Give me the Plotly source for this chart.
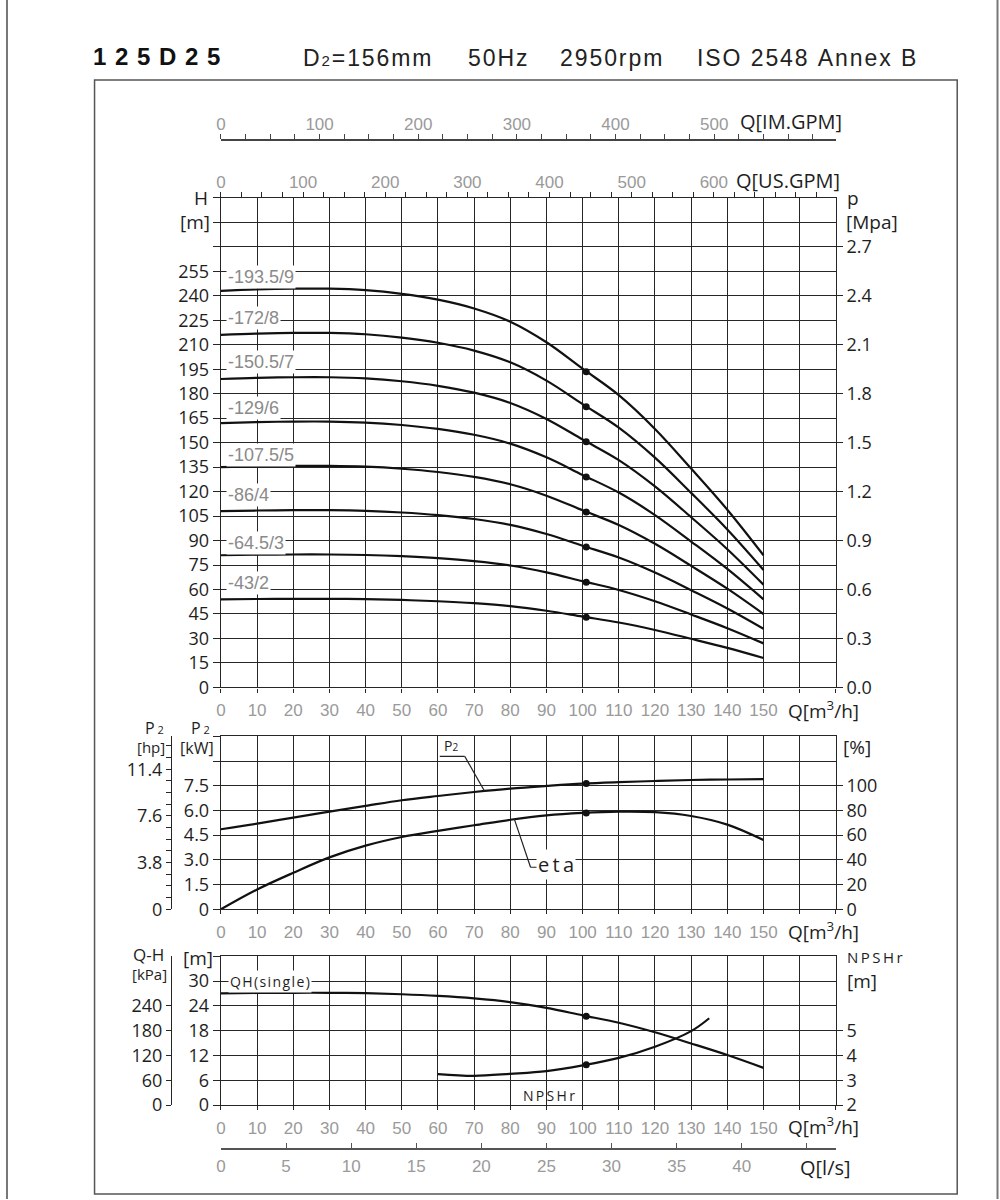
import plotly.graph_objects as go

# ---------------- data ----------------
Q = [0, 10, 20, 30, 40, 50, 60, 70, 80, 90, 100, 110, 120, 130, 140, 150]
H1 = [27.0, 27.1, 27.15, 27.15, 27.05, 26.8, 26.4, 25.8, 24.9, 23.5, 21.7, 19.9, 17.6, 14.9, 12.1, 9.0]
H2 = [54.0, 54.2, 54.3, 54.3, 54.1, 53.6, 52.8, 51.6, 49.8, 47.0, 43.4, 39.8, 35.2, 29.8, 24.2, 18.0]
H3 = [81.0, 81.3, 81.45, 81.45, 81.15, 80.4, 79.2, 77.4, 74.7, 70.5, 65.1, 59.7, 52.8, 44.7, 36.3, 27.0]
H4 = [108.0, 108.4, 108.6, 108.6, 108.2, 107.2, 105.6, 103.2, 99.6, 94.0, 86.8, 79.6, 70.4, 59.6, 48.4, 36.0]
H5 = [135.0, 135.5, 135.75, 135.75, 135.25, 134.0, 132.0, 129.0, 124.5, 117.5, 108.5, 99.5, 88.0, 74.5, 60.5, 45.0]
H6 = [162.0, 162.6, 162.9, 162.9, 162.3, 160.8, 158.4, 154.8, 149.4, 141.0, 130.2, 119.4, 105.6, 89.4, 72.6, 54.0]
H7 = [189.0, 189.7, 190.05, 190.05, 189.35, 187.6, 184.8, 180.6, 174.3, 164.5, 151.9, 139.3, 123.2, 104.3, 84.7, 63.0]
H8 = [216.0, 216.8, 217.2, 217.2, 216.4, 214.4, 211.2, 206.4, 199.2, 188.0, 173.6, 159.2, 140.8, 119.2, 96.8, 72.0]
H9 = [243.0, 243.9, 244.35, 244.35, 243.45, 241.2, 237.6, 232.2, 224.1, 211.5, 195.3, 179.1, 158.4, 134.1, 108.9, 81.0]
stage_curves = [H2, H3, H4, H5, H6, H7, H8, H9]
stages = [2, 3, 4, 5, 6, 7, 8, 9]
rated_Q = 101
rated_H = [43, 64.5, 86, 107.5, 129, 150.5, 172, 193.5]
stage_label_H = [64.2, 88.7, 118.0, 142.5, 171.2, 199.3, 226.1, 251.3]  # label placement

P2_kW = [4.86, 5.2, 5.57, 5.93, 6.28, 6.62, 6.88, 7.12, 7.33, 7.49, 7.63, 7.72, 7.79, 7.85, 7.88, 7.9]
eta = [0, 16, 29.5, 42, 51.5, 58.5, 63.5, 68, 72.5, 76, 78, 79, 78.6, 75.5, 68.5, 56]
rated_P2 = 7.64
rated_eta = 78

Q_npsh = [60, 70, 80, 90, 100, 110, 120, 130, 135]
NPSHr = [3.25, 3.18, 3.26, 3.37, 3.6, 3.9, 4.35, 4.98, 5.5]
rated_H1 = 21.5
rated_NPSHr = 3.63

H_ticks = list(range(0, 301, 15))
p_ticks = [0.0, 0.3, 0.6, 0.9, 1.2, 1.5, 1.8, 2.1, 2.4, 2.7]
kW_ticks = [0, 1.5, 3.0, 4.5, 6.0, 7.5, 9.0, 10.5]
pct_ticks = [0, 20, 40, 60, 80, 100]
hp_labels = [0, 3.8, 7.6, 11.4]
m_ticks = [0, 6, 12, 18, 24, 30, 36]
npsh_ticks = [2, 3, 4, 5]
kPa_ticks = [0, 60, 120, 180, 240]
ls_labels = [0, 5, 10, 15, 20, 25, 30, 35, 40]
usgpm_labels = [0, 100, 200, 300, 400, 500, 600]
imgpm_labels = [0, 100, 200, 300, 400, 500]

# ---------------- style helpers ----------------
W, Hpx = 1000, 1200
FIG_H = 1210
def px(x):
    return x / W
def py(y):
    return 1 - y / Hpx

GC = '#262626'
DARK = '#1e1e1e'
GRAY = '#9a9a9a'
FT = 'Open Sans, DejaVu Sans, sans-serif'
FG = 'Liberation Sans, Arial, sans-serif'
XD = [px(217), px(835)]
D_TOP = [py(688), py(198)]
D_MID = [py(910), py(737)]
D_BOT = [py(1106), py(957)]
QMAX = 170

def xax(anchor):
    tv = list(range(0, QMAX + 1, 10))
    return dict(domain=XD, anchor=anchor, range=[0, QMAX], tickvals=tv,
                ticktext=[str(v) if v <= 150 else '' for v in tv],
                showgrid=True, gridcolor=GC, gridwidth=1.3, showline=True, linecolor=GC,
                linewidth=1.3, mirror=True, ticks='outside', ticklen=4, tickcolor=GC,
                ticklabelstandoff=3,
                tickfont=dict(family=FG, size=17, color=GRAY), zeroline=False)

def yax(domain, rng, tv, tt, anchor):
    return dict(domain=domain, anchor=anchor, range=rng, tickvals=tv, ticktext=tt,
                showgrid=True, gridcolor=GC, gridwidth=1.3, showline=True, linecolor=GC,
                linewidth=1.3, mirror=True, ticks='outside', ticklen=7, tickcolor=GC,
                tickfont=dict(family=FT, size=18, color=DARK), zeroline=False)

def yright(over, rng, tv, tt, anchor):
    return dict(overlaying=over, side='right', anchor=anchor, range=rng, tickvals=tv, ticktext=tt,
                showgrid=False, showline=False, ticks='outside', ticklen=6, tickcolor=GC,
                tickfont=dict(family=FT, size=18, color=DARK), zeroline=False)

fig = go.Figure()
LINE = dict(color='#111', width=2.2)
DOT = dict(color='#111', size=7)

# top panel curves
for n, Hc in zip(stages, stage_curves):
    fig.add_trace(go.Scatter(x=Q, y=Hc, mode='lines', line=LINE, line_shape='spline',
                             xaxis='x', yaxis='y', hoverinfo='skip'))
fig.add_trace(go.Scatter(x=[rated_Q] * len(rated_H), y=rated_H, mode='markers', marker=DOT,
                         xaxis='x', yaxis='y'))
fig.add_trace(go.Scatter(x=[0], y=[0], mode='markers', marker=dict(opacity=0), xaxis='x', yaxis='y4'))

# middle panel
fig.add_trace(go.Scatter(x=Q, y=P2_kW, mode='lines', line=LINE, line_shape='spline', xaxis='x2', yaxis='y2'))
fig.add_trace(go.Scatter(x=[rated_Q], y=[rated_P2], mode='markers', marker=DOT, xaxis='x2', yaxis='y2'))
fig.add_trace(go.Scatter(x=Q, y=eta, mode='lines', line=LINE, line_shape='spline', xaxis='x2', yaxis='y5'))
fig.add_trace(go.Scatter(x=[rated_Q], y=[rated_eta], mode='markers', marker=DOT, xaxis='x2', yaxis='y5'))
fig.add_trace(go.Scatter(x=[0], y=[0], mode='markers', marker=dict(opacity=0), xaxis='x2', yaxis='y6'))

# bottom panel
fig.add_trace(go.Scatter(x=Q, y=H1, mode='lines', line=LINE, line_shape='spline', xaxis='x3', yaxis='y3'))
fig.add_trace(go.Scatter(x=[rated_Q], y=[rated_H1], mode='markers', marker=DOT, xaxis='x3', yaxis='y3'))
fig.add_trace(go.Scatter(x=Q_npsh, y=NPSHr, mode='lines', line=LINE, line_shape='spline', xaxis='x3', yaxis='y7'))
fig.add_trace(go.Scatter(x=[rated_Q], y=[rated_NPSHr], mode='markers', marker=DOT, xaxis='x3', yaxis='y7'))
fig.add_trace(go.Scatter(x=[0], y=[0], mode='markers', marker=dict(opacity=0), xaxis='x3', yaxis='y8'))

# extra flow-unit axes (dummies)
fig.add_trace(go.Scatter(x=[0], y=[0], mode='markers', marker=dict(opacity=0), xaxis='x5', yaxis='y'))
fig.add_trace(go.Scatter(x=[0], y=[0], mode='markers', marker=dict(opacity=0), xaxis='x6', yaxis='y'))
fig.add_trace(go.Scatter(x=[0], y=[0], mode='markers', marker=dict(opacity=0), xaxis='x7', yaxis='y3'))

IM_PER_M3H = 3.6662
US_PER_M3H = 4.4029
LS_PER_M3H = 1 / 3.6

layout = dict(width=W, height=FIG_H, margin=dict(l=0, r=0, t=0, b=0, pad=0),
              paper_bgcolor='white', plot_bgcolor='white', showlegend=False)
layout['xaxis'] = xax('y')
layout['xaxis2'] = xax('y2')
layout['xaxis3'] = xax('y3')
layout['yaxis'] = yax(D_TOP, [0, 300], H_ticks, [str(v) if v <= 255 else '' for v in H_ticks], 'x')
layout['yaxis4'] = yright('y', [0, 3.0], p_ticks, ['%.1f' % v for v in p_ticks], 'x')
layout['yaxis2'] = yax(D_MID, [0, 10.5], kW_ticks, ['0', '1.5', '3.0', '4.5', '6.0', '7.5', '', ''], 'x2')
layout['yaxis5'] = yright('y2', [0, 140], pct_ticks, [str(v) for v in pct_ticks], 'x2')
hp_max = 10.5 * 1.34102
hp_tv = [round(0.95 * i, 2) for i in range(0, 15)]
layout['yaxis6'] = dict(overlaying='y2', anchor='free', position=px(167), side='left', range=[0, hp_max],
                        tickvals=hp_tv, ticktext=[('%g' % v if v in hp_labels else '') for v in hp_tv],
                        showgrid=False, showline=True, linecolor=GC, linewidth=1.3, ticks='outside',
                        ticklen=5, tickcolor=GC, tickfont=dict(family=FT, size=18, color=DARK), zeroline=False)
layout['yaxis3'] = yax(D_BOT, [0, 36], m_ticks, ['0', '6', '12', '18', '24', '30', ''], 'x3')
layout['yaxis7'] = yright('y3', [2, 8], npsh_ticks, [str(v) for v in npsh_ticks], 'x3')
layout['yaxis8'] = dict(overlaying='y3', anchor='free', position=px(167), side='left', range=[0, 360],
                        tickvals=kPa_ticks, ticktext=[str(v) for v in kPa_ticks],
                        showgrid=False, showline=True, linecolor=GC, linewidth=1.3, ticks='outside',
                        ticklen=5, tickcolor=GC, tickfont=dict(family=FT, size=18, color=DARK), zeroline=False)
im_tv = list(range(0, 625, 25))
layout['xaxis5'] = dict(overlaying='x', anchor='free', position=py(140), side='top',
                        range=[0, QMAX * IM_PER_M3H], tickvals=im_tv,
                        ticktext=[str(v) if v in imgpm_labels else '' for v in im_tv],
                        showgrid=False, showline=True, linecolor='#444', linewidth=1.6, ticks='outside',
                        ticklen=5, tickcolor='#444', ticklabelstandoff=-3,
                        tickfont=dict(family=FG, size=17, color=GRAY), zeroline=False)
us_tv = list(range(0, 750, 25))
layout['xaxis6'] = dict(overlaying='x', anchor='y', side='top',
                        range=[0, QMAX * US_PER_M3H], tickvals=us_tv,
                        ticktext=[str(v) if v in usgpm_labels else '' for v in us_tv],
                        showgrid=False, showline=False, ticks='outside',
                        ticklen=5, tickcolor=GC, ticklabelstandoff=-3,
                        tickfont=dict(family=FG, size=17, color=GRAY), zeroline=False)
ls_tv = list(range(0, 50, 5))
layout['xaxis7'] = dict(overlaying='x3', anchor='free', position=py(1150), side='bottom',
                        range=[0, QMAX * LS_PER_M3H], tickvals=ls_tv,
                        ticktext=[str(v) if v in ls_labels else '' for v in ls_tv],
                        showgrid=False, showline=True, linecolor='#555', linewidth=2, ticks='inside',
                        ticklen=5, tickcolor='#555', ticklabelstandoff=2,
                        tickfont=dict(family=FG, size=17, color=GRAY), zeroline=False)
fig.update_layout(**layout)

ann = []
def A(x, y, text, size=19, color=DARK, family=FT, xanchor='center', **kw):
    ann.append(dict(x=px(x), y=py(y), xref='paper', yref='paper', text=text, showarrow=False,
                    xanchor=xanchor, yanchor='middle', font=dict(size=size, color=color, family=family), **kw))

THIN = '\u2009'
HAIR = '\u200a'
def spaced(s, sep=THIN):
    return sep.join(list(s))

# title
A(86, 57, '<b>' + (' ' + HAIR).join(list('125D25')) + '</b>', size=24, family=FG, color='#111', xanchor='left')
A(297, 58, 'D' + HAIR + "<span style='font-size:15px'>2</span>" + HAIR + spaced('=156mm', HAIR),
  size=23, family=FG, color='#222', xanchor='left')
A(463, 58, spaced('50Hz', HAIR), size=23, family=FG, color='#222', xanchor='left')
A(556, 58, spaced('2950rpm', HAIR), size=23, family=FG, color='#222', xanchor='left')
A(693, 58, spaced('ISO 2548 Annex B', HAIR), size=23, family=FG, color='#222', xanchor='left')

# axis titles
A(737, 122, 'Q[IM.GPM]', size=20, xanchor='left')
A(733, 181, 'Q[US.GPM]', size=20, xanchor='left')
A(197, 198, 'H', size=19)
A(191, 222, '[m]', size=19)
A(844, 198, 'p', size=19, xanchor='left')
A(843, 222, '[Mpa]', size=19, xanchor='left')
for yy in (711, 932, 1127):
    A(785, yy, 'Q[m<sup>3</sup>/h]', size=19, xanchor='left')
A(797, 1168, 'Q[l/s]', size=20, xanchor='left')

P2txt = "P<span style='font-size:11px'> 2</span>"
A(196, 729, P2txt, size=16)
A(193, 749, '[kW]', size=16)
A(150, 729, P2txt, size=16)
A(147, 748, '[hp]', size=15)
A(856, 748, '[%]', size=19)

A(144, 955, 'Q-H', size=17)
A(145, 975, '[kPa]', size=15)
A(194, 959, '[m]', size=19)
A(844, 958, spaced('NPSHr', THIN), size=15, xanchor='left')
A(844, 982, '[m]', size=19, xanchor='left')

# stage labels
for n, hr, hl in zip(stages, rated_H, stage_label_H):
    ann.append(dict(x=1.5, y=hl, xref='x', yref='y', text='-%g/%d' % (hr, n), showarrow=False,
                    xanchor='left', yanchor='middle', bgcolor='white', borderpad=1,
                    font=dict(size=18, color='#8a8a8a', family=FG)))

# curve labels
ann.append(dict(x=2.0, y=30, xref='x3', yref='y3', text=spaced('QH(single)', HAIR), showarrow=False,
                xanchor='left', yanchor='middle', bgcolor='white', borderpad=1,
                font=dict(size=14, color=DARK, family=FT)))
ann.append(dict(x=83.0, y=2.4, xref='x3', yref='y3', text=spaced('NPSHr', THIN), showarrow=False,
                xanchor='left', yanchor='middle', font=dict(size=14, color=DARK, family=FT)))
ann.append(dict(x=61.0, y=9.95, xref='x2', yref='y2', text="P<span style='font-size:10px'>2</span>",
                showarrow=False, xanchor='left', yanchor='middle', font=dict(size=14, color=DARK, family=FT)))
ann.append(dict(x=87.0, y=36.5, xref='x2', yref='y5', text=spaced('eta', THIN), showarrow=False,
                xanchor='left', yanchor='middle', bgcolor='white', borderpad=1,
                font=dict(size=20, color=DARK, family=FT)))
fig.update_layout(annotations=ann)

shapes = []
shapes.append(dict(type='line', xref='x2', yref='y2', x0=60.5, y0=9.29, x1=67.4, y1=9.29, line=dict(color='#222', width=1.2)))
shapes.append(dict(type='line', xref='x2', yref='y2', x0=67.4, y0=9.29, x1=72.9, y1=7.17, line=dict(color='#222', width=1.2)))
shapes.append(dict(type='line', xref='x2', yref='y5', x0=85.6, y0=34.0, x1=96.3, y1=34.0, line=dict(color='#222', width=1.2)))
shapes.append(dict(type='line', xref='x2', yref='y5', x0=85.6, y0=34.0, x1=81.1, y1=73.2, line=dict(color='#222', width=1.2)))
shapes.append(dict(type='rect', xref='paper', yref='paper', x0=px(90), x1=px(957), y0=py(1195), y1=py(80),
                   line=dict(color='#555', width=1.5)))
shapes.append(dict(type='line', xref='paper', yref='paper', x0=px(2), x1=px(2), y0=0, y1=1, line=dict(color='#777', width=2)))
shapes.append(dict(type='line', xref='paper', yref='paper', x0=px(997.5), x1=px(997.5), y0=0, y1=1, line=dict(color='#777', width=2)))
fig.update_layout(shapes=shapes)

fig.write_html('out.html', post_script="document.body.style.margin='0';document.body.style.overflow='hidden';")
